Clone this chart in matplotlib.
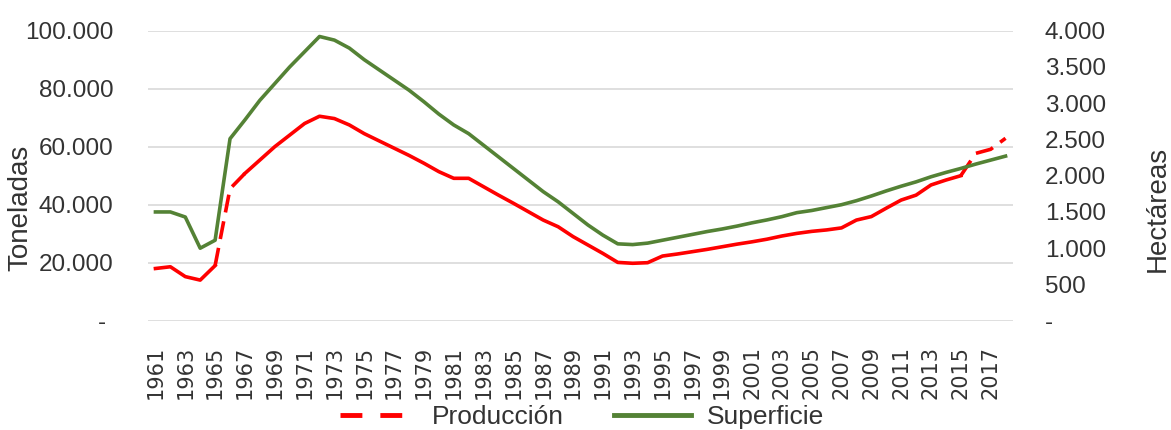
import matplotlib
matplotlib.use("Agg")
import matplotlib.pyplot as plt
from matplotlib.lines import Line2D
from matplotlib.ticker import FuncFormatter

plt.rcParams['font.family'] = ['Liberation Sans', 'DejaVu Sans']

# Serie anual 1961-2018
years = list(range(1961, 2019))

# Producción (toneladas)
produccion = [
    18000, 18600, 15200, 14000, 19000, 45500, 50800, 55400, 60000, 64000,
    68000, 70500, 69700, 67500, 64500, 62000, 59500, 57000, 54300, 51400,
    49100, 49100, 46200, 43300, 40500, 37600, 34700, 32400, 29000, 26100,
    23200, 20100, 19800, 20000, 22300, 23000, 23800, 24600, 25500, 26400,
    27200, 28100, 29200, 30100, 30800, 31300, 32000, 34700, 35900, 38800,
    41600, 43300, 46800, 48500, 50000, 57700, 59100, 62900,
]

# Superficie (hectáreas)
superficie = [
    1500, 1500, 1430, 1000, 1110, 2510, 2770, 3040, 3270, 3500,
    3710, 3920, 3870, 3760, 3600, 3460, 3320, 3180, 3020, 2850,
    2700, 2580, 2420, 2260, 2100, 1940, 1780, 1640, 1480, 1320,
    1180, 1060, 1050, 1070, 1110, 1150, 1190, 1230, 1265, 1305,
    1350, 1390, 1435, 1490, 1520, 1560, 1600, 1655, 1720, 1790,
    1855, 1915, 1985, 2045, 2100, 2160, 2215, 2270,
]

# tramos de producción (índices inicio, fin)
tramos_continuos = [(0, 4), (6, 54)]
tramos_discontinuos = [(4, 6), (54, 57)]

ROJO = '#FF0000'
VERDE = '#548235'
TEXTO = '#333333'
REJILLA = '#D9D9D9'


def fmt_izq(v, pos):
    if v == 0:
        return '- '
    return f'{v:,.0f}'.replace(',', '.')


def fmt_der(v, pos):
    if v == 0:
        return '-'
    return f'{v:,.0f}'.replace(',', '.')


fig = plt.figure(figsize=(11.71, 4.30), dpi=100)
ax = fig.add_axes([148 / 1171, 1 - 320.7 / 430, 865 / 1171, 290 / 430])
ax2 = ax.twinx()

x = list(range(len(years)))

for a, b in tramos_continuos:
    ax.plot(x[a:b + 1], produccion[a:b + 1], color=ROJO, lw=2.6,
            solid_joinstyle='round')
for a, b in tramos_discontinuos:
    ax.plot(x[a:b + 1], produccion[a:b + 1], color=ROJO, lw=2.6,
            linestyle=(0, (5.0, 2.5)), dash_capstyle='butt')

ax2.plot(x, superficie, color=VERDE, lw=2.6, solid_joinstyle='round')

ax.set_xlim(-0.5, len(years) - 0.5)
ax.set_ylim(0, 100000)
ax2.set_ylim(0, 4000)

ax.set_yticks(range(0, 100001, 20000))
ax2.set_yticks(range(0, 4001, 500))
ax.yaxis.set_major_formatter(FuncFormatter(fmt_izq))
ax2.yaxis.set_major_formatter(FuncFormatter(fmt_der))

ax.set_xticks(x[::2])
ax.set_xticklabels([str(y) for y in years[::2]], rotation=90,
                   fontfamily='DejaVu Sans', fontsize=15, color=TEXTO)
ax.tick_params(axis='x', length=0, pad=18)
ax.tick_params(axis='y', length=0, pad=25, labelsize=17.5, labelcolor=TEXTO)
ax2.tick_params(axis='y', length=0, pad=23, labelsize=17.5, labelcolor=TEXTO)

ax.yaxis.grid(True, color=REJILLA, lw=1.2)
ax.set_axisbelow(True)
for a_ in (ax, ax2):
    for s in a_.spines.values():
        s.set_visible(False)

ax.set_ylabel('Toneladas', fontsize=20, color=TEXTO)
ax.yaxis.set_label_coords(-0.133, 0.389)
ax2.set_ylabel('Hectáreas', fontsize=20, color=TEXTO)
ax2.yaxis.set_label_coords(1.152, 0.385)

handles = [
    Line2D([], [], color=ROJO, lw=3.5, linestyle=(0, (4.5, 3.7)),
           dash_capstyle='butt'),
    Line2D([], [], color=VERDE, lw=3.5),
]
fig.legend(handles, ['Producción', 'Superficie'], loc='center',
           bbox_to_anchor=(0.497, 0.03), ncol=2, frameon=False, fontsize=19,
           handlelength=2.9, handletextpad=0.6, columnspacing=1.9,
           labelcolor=TEXTO, borderpad=0)

fig.savefig('out.png', dpi=100)
